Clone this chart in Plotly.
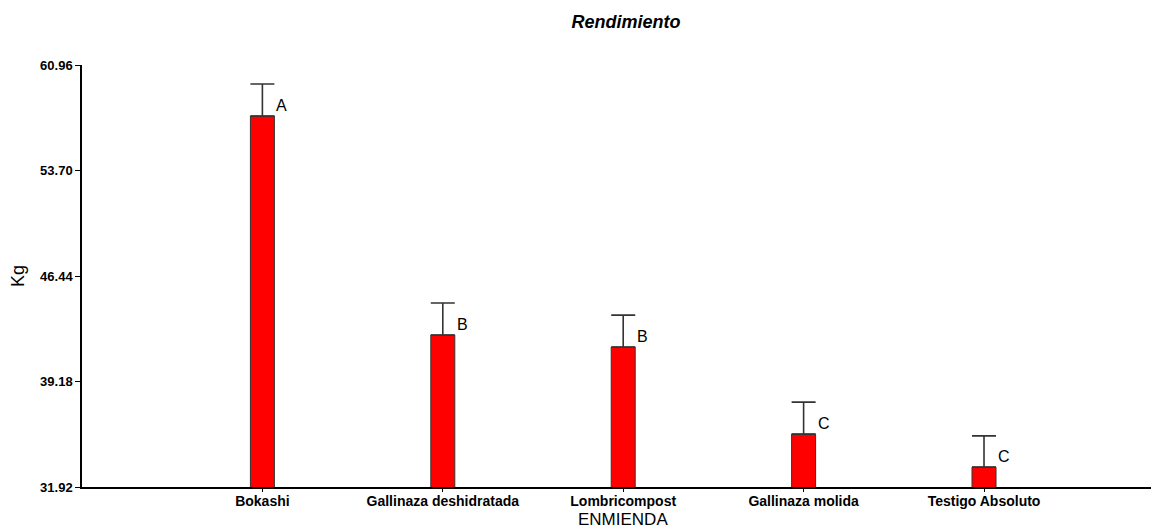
import plotly.graph_objects as go

categories = ["Bokashi", "Gallinaza deshidratada", "Lombricompost", "Gallinaza molida", "Testigo Absoluto"]
means = [57.45, 42.38, 41.55, 35.56, 33.29]
errors = [2.2, 2.2, 2.2, 2.2, 2.15]
letters = ["A", "B", "B", "C", "C"]
y_ticks = [31.92, 39.18, 46.44, 53.70, 60.96]
y_tick_labels = ["31.92", "39.18", "46.44", "53.70", "60.96"]

FONT = "Liberation Sans, Arial"

fig = go.Figure()
fig.add_trace(go.Bar(
    x=categories, y=means, base=0,
    width=0.133,
    marker=dict(color="#ff0000", line=dict(color="#333333", width=1)),
    error_y=dict(type="data", array=errors, arrayminus=[0]*len(errors), symmetric=False,
                 color="#333333", thickness=1.6, width=12),
    showlegend=False,
))

for c, m, l in zip(categories, means, letters):
    fig.add_annotation(x=c, y=m, text=l, showarrow=False, xanchor="left", yanchor="middle",
                       xshift=12, yshift=11,
                       font=dict(family=FONT, size=16, color="#000"))

fig.add_annotation(text="ENMIENDA", xref="paper", yref="paper", x=0.502, y=-0.078,
                   xanchor="center", yanchor="middle", showarrow=False,
                   font=dict(family=FONT, size=17, color="#000"))
fig.add_annotation(text="Kg", xref="paper", yref="paper", x=-0.0594, y=0.5, textangle=-90,
                   xanchor="center", yanchor="middle", showarrow=False,
                   font=dict(family=FONT, size=18, color="#000"))

fig.update_layout(
    width=1151, height=521,
    margin=dict(l=74, r=0, t=57, b=42),
    plot_bgcolor="white", paper_bgcolor="white",
    title=dict(text="<b><i>Rendimiento</i></b>", x=0.537, xanchor="center", y=0.973, yanchor="middle",
               font=dict(family=FONT, size=18, color="#000")),
    xaxis=dict(
        range=[-1.0, 4.97], showline=True, linecolor="#000", linewidth=1.5,
        ticks="outside", ticklen=3, tickcolor="#000", showgrid=False, zeroline=False,
        ticklabelstandoff=-3,
        tickfont=dict(family=FONT, size=14, color="#000", weight="bold"),
    ),
    yaxis=dict(
        range=[31.92, 60.96], showline=True, linecolor="#000", linewidth=1.5,
        ticks="outside", ticklen=5, tickcolor="#000", showgrid=False, zeroline=False,
        tickvals=y_ticks, ticktext=y_tick_labels,
        tickfont=dict(family=FONT, size=13, color="#000", weight="bold"),
    ),
)

fig.write_html("out.html")
